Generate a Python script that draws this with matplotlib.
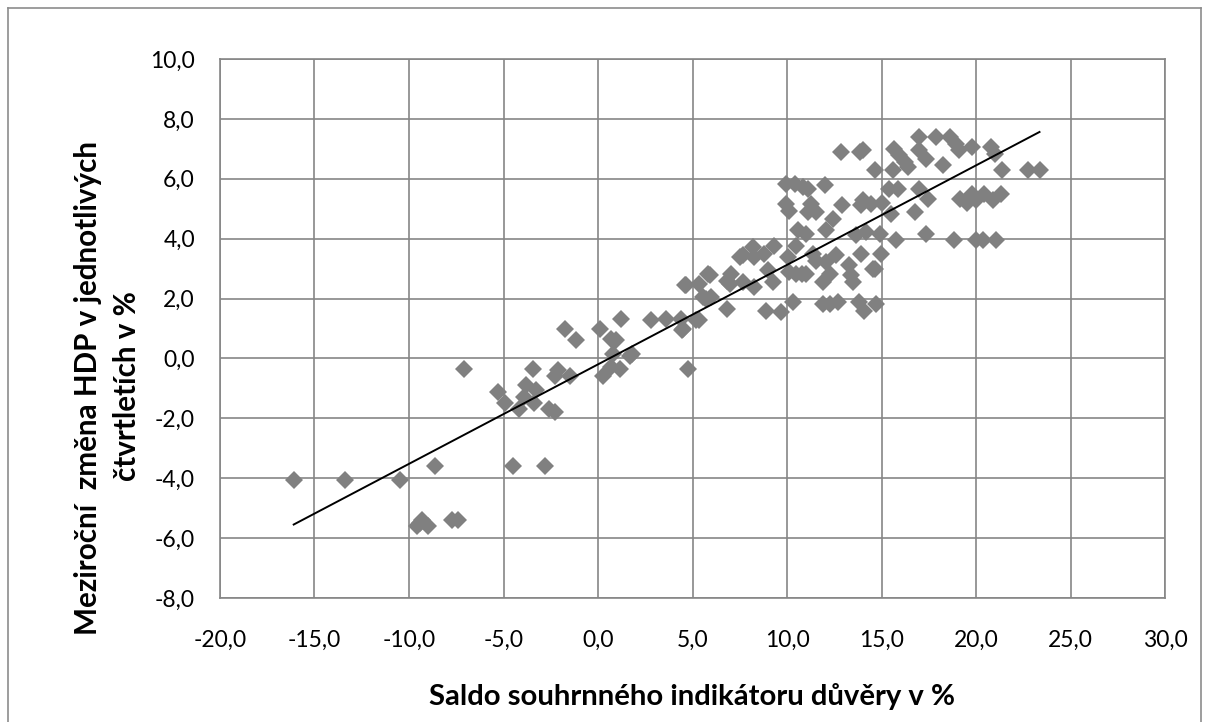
import numpy as np
import matplotlib
matplotlib.use("Agg")
import matplotlib.pyplot as plt
from matplotlib.lines import Line2D

# ---- data ----
saldo = [-16.1, -13.4, -10.5, -8.65, -9.6, -9.3, -9.0, -9.4, -7.7, -7.4, -7.1,
         -5.3, -4.9, -4.5, -4.2, -3.9, -3.8, -3.45, -3.4, -3.27, -2.8, -2.6, -2.3, -2.3, -2.1, -1.77, -1.47, -1.15,
         0.13, 0.26, 0.7, 0.7, 0.79, 0.96, 1.17, 1.23, 1.67, 1.8,
         2.8, 3.6, 4.4, 4.45, 4.49, 4.58, 4.67, 4.75, 5.2, 5.37, 5.37, 5.55, 5.72, 5.81, 5.9, 6.0,
         6.8, 6.85, 6.96, 7.05, 7.49, 7.66, 7.66, 8.19, 8.28, 8.28, 8.8, 8.9, 8.98, 9.25, 9.29, 9.69,
         9.96, 9.96, 10.04, 10.1, 10.13, 10.3, 10.4, 10.49, 10.5, 10.57, 10.8, 10.84, 11.0, 11.0, 11.1, 11.1,
         11.28, 11.37, 11.55, 11.55, 11.9, 11.9, 12.0, 12.07, 12.07, 12.25, 12.3, 12.42, 12.6, 12.7, 12.87,
         12.9, 13.3, 13.4, 13.5, 13.66, 13.8, 13.84, 13.93, 13.93, 14.0, 14.0, 14.1, 14.19, 14.45, 14.54,
         14.63, 14.63, 14.7, 14.9, 14.98, 15.0, 15.4, 15.5, 15.6, 15.65, 15.78, 15.86, 15.9, 16.25, 16.4,
         16.75, 17.0, 17.0, 17.0, 17.37, 17.37, 17.45, 17.9, 18.24, 18.6, 18.86, 18.95, 19.1, 19.13, 19.5,
         19.8, 19.8, 20.0, 20.0, 20.35, 20.4, 20.8, 20.9, 20.98, 21.05, 21.3, 21.4, 22.74, 23.36]
hdp = [-4.05, -4.05, -4.05, -3.6, -5.6, -5.4, -5.6, -5.5, -5.4, -5.4, -0.34,
       -1.12, -1.5, -3.6, -1.7, -1.3, -0.9, -0.35, -1.5, -1.07, -3.6, -1.7, -1.8, -0.57, -0.38, 0.99, -0.6, 0.62,
       0.99, -0.57, 0.66, -0.29, 0.16, 0.62, -0.34, 1.32, 0.07, 0.15,
       1.29, 1.32, 1.32, 0.96, 0.99, 2.44, 2.44, -0.34, 1.27, 2.5, 1.27, 2.05, 1.99, 2.83, 2.77, 2.05,
       1.66, 2.6, 2.49, 2.83, 3.38, 3.44, 2.55, 3.72, 3.38, 2.38, 3.5, 1.6, 2.94, 2.55, 3.77, 1.55,
       5.83, 5.17, 3.38, 4.94, 2.88, 1.88, 5.83, 3.77, 2.83, 4.28, 2.83, 5.72, 4.16, 2.83, 5.67, 4.89,
       5.17, 3.5, 4.89, 3.27, 2.55, 1.83, 5.78, 4.28, 3.22, 2.83, 1.83, 4.67, 3.44, 1.88, 6.89,
       5.14, 3.11, 2.77, 2.55, 4.11, 1.88, 6.89, 5.11, 3.5, 5.28, 6.95, 1.6, 4.22, 5.17, 3.0,
       6.28, 3.0, 1.83, 4.16, 3.5, 5.2, 5.67, 4.83, 6.28, 7.0, 3.94, 5.67, 6.78, 6.56, 6.39,
       4.89, 7.39, 6.95, 5.67, 6.67, 4.16, 5.33, 7.39, 6.45, 7.39, 3.94, 7.17, 6.95, 5.33, 5.2,
       7.06, 5.5, 3.94, 5.3, 3.94, 5.5, 7.06, 5.3, 6.84, 3.94, 5.5, 6.28, 6.28, 6.28]

x_ticks = [-20, -15, -10, -5, 0, 5, 10, 15, 20, 25, 30]
y_ticks = [-8, -6, -4, -2, 0, 2, 4, 6, 8, 10]
x_label = "Saldo souhrnného indikátoru důvěry v %"
y_label_1 = "Meziroční  změna HDP v jednotlivých"
y_label_2 = "čtvrtletích v %"

plt.rcParams['font.family'] = ['Lato', 'DejaVu Sans']

W, H = 1210, 722
fig = plt.figure(figsize=(W / 100, H / 100), dpi=100)
ax = fig.add_axes([220 / W, 1 - 598 / H, (1165 - 220) / W, (598 - 59) / H])
renderer = fig.canvas.get_renderer()


def fit_font(txt, target_px, along='x'):
    """Scale a text's font size so that its extent matches target_px."""
    for _ in range(3):
        bb = txt.get_window_extent(renderer)
        cur = bb.width if along == 'x' else bb.height
        txt.set_fontsize(txt.get_fontsize() * target_px / cur)


grid_c = '#868686'
ax.set_xlim(-20, 30)
ax.set_ylim(-8, 10)
ax.set_xticks(x_ticks)
ax.set_yticks(y_ticks)
ax.set_xticklabels([f"{v:.1f}".replace('.', ',') for v in x_ticks], fontsize=16.5)
ax.set_yticklabels([f"{v:.1f}".replace('.', ',') for v in y_ticks], fontsize=16.5)
ax.tick_params(length=0, pad=23, axis='x')
ax.tick_params(length=0, pad=18, axis='y')
ax.grid(True, color=grid_c, linewidth=1.2)
ax.set_axisbelow(True)
for s in ax.spines.values():
    s.set_color(grid_c)
    s.set_linewidth(1.2)

xs = np.array(saldo)
ys = np.array(hdp)
ax.plot(xs, ys, linestyle='none', marker='D', markersize=9, color='#808080', markeredgewidth=0, zorder=3)

# linear trendline (least squares, drawn over the data range)
k, q = np.polyfit(xs, ys, 1)
xl = np.array([xs.min(), xs.max()])
ax.plot(xl, k * xl + q, color='black', linewidth=1.4, zorder=4)

# axis titles
tx = fig.text(692 / W, 1 - 697 / H, x_label, ha='center', va='center', fontsize=20, fontweight='bold')
fit_font(tx, 525, 'x')
t1 = fig.text(88 / W, 1 - 388 / H, y_label_1, ha='center', va='center', rotation=90, fontsize=20,
              fontweight='bold')
fit_font(t1, 495, 'y')
t2 = fig.text(127 / W, 1 - 386 / H, y_label_2, ha='center', va='center', rotation=90,
              fontsize=t1.get_fontsize(), fontweight='bold')

# chart-area frame
for (x0, y0, x1, y1) in [(8, 8, 8, 722), (8, 8, 1201, 8), (1201, 8, 1201, 722)]:
    fig.add_artist(Line2D([x0 / W, x1 / W], [1 - y0 / H, 1 - y1 / H], color='#8c8c8c', linewidth=1.2,
                          transform=fig.transFigure))

fig.savefig('out.png', dpi=100)
